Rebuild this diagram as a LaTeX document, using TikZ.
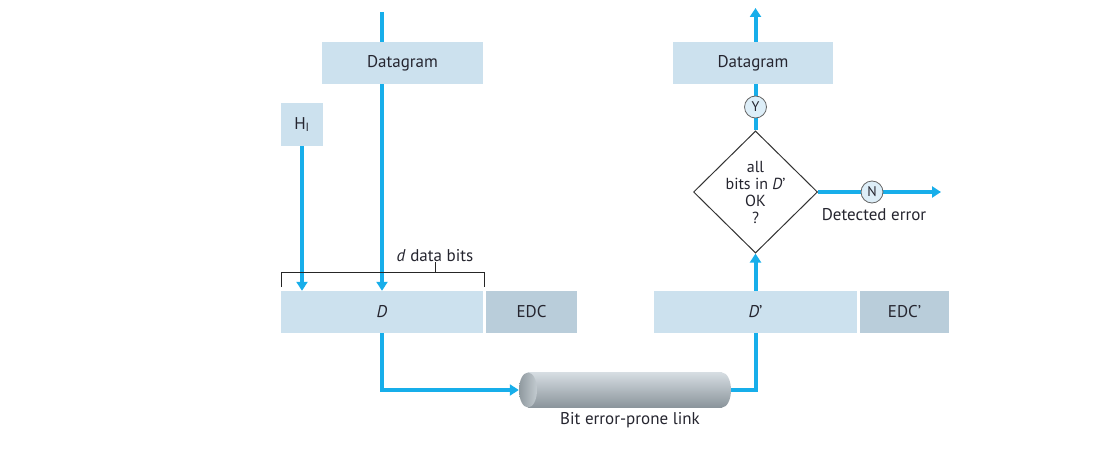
\documentclass[tikz,border=0pt]{standalone}
\usepackage{fontspec}
\setmainfont{PT Sans}
\usetikzlibrary{arrows.meta,shapes.geometric}
\pgfdeclarelayer{bg}
\pgfsetlayers{bg,main}
\definecolor{flowc}{HTML}{17AEEA}
\definecolor{boxc}{HTML}{CCE1EE}
\definecolor{edcc}{HTML}{B9CDDA}
\definecolor{txtc}{HTML}{25252F}
\definecolor{circc}{HTML}{DDEEF8}
\definecolor{cyltop}{HTML}{D6DDE2}
\definecolor{cylmid}{HTML}{C6CED4}
\definecolor{cylbot}{HTML}{8A949B}
\definecolor{cylfaceA}{HTML}{8F999F}
\definecolor{cylfaceB}{HTML}{C3CBD0}
\begin{document}
\begin{tikzpicture}[x=1pt,y=-1pt,
  font=\fontsize{17}{19}\selectfont, text=txtc,
  box/.style={fill=boxc, draw=none, inner sep=0pt},
  edcbox/.style={fill=edcc, draw=none, inner sep=0pt},
  flow/.style={draw=flowc, line width=4pt},
  flowarrow/.style={flow, -{Triangle[width=11pt,length=9pt]}},
  circ/.style={circle, draw=black!60, fill=circc, line width=0.8pt, minimum size=22pt, inner sep=0pt, font=\fontsize{14}{15}\selectfont},
  dec/.style={diamond, draw=black!80, fill=white, line width=1pt, minimum width=124pt, minimum height=120pt, inner sep=0pt, align=center, font=\fontsize{16}{17}\selectfont},
  brace/.style={draw=black!85, line width=0.9pt}
]
\useasboundingbox (0,0) rectangle (1120,452);

% sender side
\node[box, minimum width=161pt, minimum height=42pt] (dg1) at (402.5,63) {Datagram};
\node[box, minimum width=42pt, minimum height=43pt] (hi) at (302,124.5) {H\textsubscript{I}};
\node[box, minimum width=202pt, minimum height=42pt] (D) at (382,312) {\textit{D}};
\node[edcbox, minimum width=91pt, minimum height=42pt] (edc) at (531.5,312) {EDC};
\coordinate (inL) at (382,12);

% receiver side
\node[box, minimum width=160pt, minimum height=42pt] (dg2) at (753,63) {Datagram};
\node[box, minimum width=203pt, minimum height=42pt] (D2) at (755.5,312) {\textit{D}'};
\node[edcbox, minimum width=89pt, minimum height=42pt] (edc2) at (904.5,312) {EDC'};
\node[dec] (dia) at (755.5,192) {all\\bits in \textit{D}'\\OK\\?};
\node[circ] (Y) at (755.5,107) {Y};
\node[circ] (N) at (872,192) {N};
\coordinate (outR) at (755.5,8);
\coordinate (outN) at (941,192);
\node[anchor=base] (det) at (874,220) {Detected error};

% bracket
\draw[brace] (281,287) -- (281,272) -- (484,272) -- (484,287);
\draw[brace] (435,272) -- (435,262);
\node[anchor=base] (dlab) at (435,261) {\textit{d} data bits};

% link cylinder
\node[minimum width=212pt, minimum height=35pt, inner sep=0pt] (link) at (625,390) {};
\shade[top color=cyltop, middle color=cylmid, bottom color=cylbot] (722,390) ellipse[x radius=9, y radius=17.5];
\shade[top color=cyltop, middle color=cylmid, bottom color=cylbot] (528,372.5) rectangle (722,407.5);
\shade[left color=cylfaceA, right color=cylfaceB] (528,390) ellipse[x radius=9, y radius=17.5];
\node[anchor=base] (lk) at (630,424) {Bit error-prone link};

% connectors
\begin{pgfonlayer}{bg}
\draw[flowarrow] (inL) -- (D.north);
\draw[flowarrow] (hi.south) -- (hi.south |- D.north);
\draw[flow] (link.east) -| (D2.south);
\draw[flowarrow] (D2.north) -- (dia.south);
\draw[flowarrow] (dia.north) -- (outR);
\draw[flowarrow] (dia.east) -- (outN);
\end{pgfonlayer}
\draw[flowarrow] (D.south) |- (link.west);
\end{tikzpicture}
\end{document}
